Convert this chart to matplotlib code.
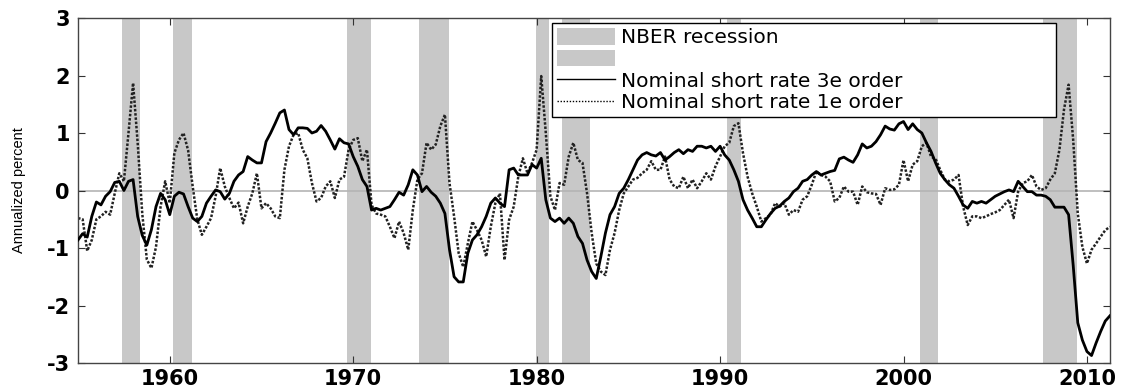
import numpy as np
import matplotlib
matplotlib.use('Agg')
import matplotlib.pyplot as plt
from matplotlib import font_manager
from matplotlib.patches import Patch
from matplotlib.lines import Line2D

plt.rcParams['axes.unicode_minus'] = False

# quarterly observations, 1955Q1 .. 2011Q2
start_year = 1955.0

# Nominal short rate, 3rd order approximation
rate_3e = [
    -0.86, -0.75, -0.81, -0.45,   # 1955
    -0.20, -0.25, -0.10, -0.02,   # 1956
    0.14, 0.16, 0.00, 0.16,       # 1957
    0.19, -0.45, -0.78, -0.95,    # 1958
    -0.68, -0.28, -0.05, -0.16,   # 1959
    -0.42, -0.10, -0.03, -0.06,   # 1960
    -0.28, -0.48, -0.54, -0.45,   # 1961
    -0.22, -0.10, 0.01, -0.02,    # 1962
    -0.15, -0.05, 0.16, 0.27,     # 1963
    0.33, 0.59, 0.53, 0.48,       # 1964
    0.48, 0.85, 1.00, 1.17,       # 1965
    1.35, 1.40, 1.06, 0.97,       # 1966
    1.09, 1.09, 1.08, 1.00,       # 1967
    1.03, 1.13, 1.03, 0.88,       # 1968
    0.72, 0.90, 0.83, 0.81,       # 1969
    0.59, 0.42, 0.19, 0.07,       # 1970
    -0.34, -0.31, -0.34, -0.31,   # 1971
    -0.28, -0.16, -0.03, -0.08,   # 1972
    0.10, 0.36, 0.27, -0.02,      # 1973
    0.07, -0.03, -0.10, -0.22,    # 1974
    -0.40, -1.03, -1.50, -1.59,   # 1975
    -1.59, -1.09, -0.86, -0.77,   # 1976
    -0.63, -0.45, -0.22, -0.13,   # 1977
    -0.22, -0.28, 0.36, 0.39,     # 1978
    0.27, 0.27, 0.27, 0.45,       # 1979
    0.39, 0.56, -0.16, -0.48,     # 1980
    -0.54, -0.48, -0.57, -0.48,   # 1981
    -0.57, -0.80, -0.92, -1.21,   # 1982
    -1.41, -1.53, -1.15, -0.74,   # 1983
    -0.42, -0.28, -0.05, 0.04,    # 1984
    0.19, 0.36, 0.53, 0.62,       # 1985
    0.66, 0.62, 0.60, 0.66,       # 1986
    0.53, 0.59, 0.66, 0.71,       # 1987
    0.64, 0.71, 0.68, 0.77,       # 1988
    0.77, 0.74, 0.77, 0.68,       # 1989
    0.77, 0.62, 0.53, 0.36,       # 1990
    0.16, -0.16, -0.34, -0.48,    # 1991
    -0.63, -0.63, -0.51, -0.40,   # 1992
    -0.31, -0.27, -0.19, -0.13,   # 1993
    -0.02, 0.04, 0.16, 0.19,      # 1994
    0.27, 0.33, 0.27, 0.30,       # 1995
    0.33, 0.35, 0.55, 0.58,       # 1996
    0.53, 0.49, 0.62, 0.81,       # 1997
    0.74, 0.77, 0.85, 0.97,       # 1998
    1.12, 1.07, 1.05, 1.16,       # 1999
    1.20, 1.06, 1.16, 1.06,       # 2000
    1.00, 0.83, 0.68, 0.48,       # 2001
    0.30, 0.19, 0.10, 0.04,       # 2002
    -0.10, -0.25, -0.31, -0.19,   # 2003
    -0.22, -0.19, -0.22, -0.16,   # 2004
    -0.10, -0.06, -0.02, 0.01,    # 2005
    -0.02, 0.16, 0.07, -0.02,     # 2006
    -0.02, -0.08, -0.08, -0.10,   # 2007
    -0.16, -0.29, -0.29, -0.29,   # 2008
    -0.42, -1.30, -2.30, -2.60,   # 2009
    -2.80, -2.87, -2.65, -2.45,   # 2010
    -2.27, -2.18,                 # 2011
]

# Nominal short rate, 1st order approximation
rate_1e = [
    -0.48, -0.50, -1.05, -0.86,   # 1955
    -0.50, -0.45, -0.37, -0.42,   # 1956
    -0.05, 0.30, 0.16, 1.00,      # 1957
    1.87, 0.83, -0.40, -1.20,     # 1958
    -1.35, -0.98, -0.28, 0.16,    # 1959
    -0.22, 0.65, 0.88, 1.00,      # 1960
    0.70, 0.07, -0.50, -0.77,     # 1961
    -0.63, -0.48, -0.10, 0.39,    # 1962
    0.07, -0.13, -0.31, -0.21,    # 1963
    -0.57, -0.28, -0.05, 0.30,    # 1964
    -0.31, -0.22, -0.31, -0.45,   # 1965
    -0.48, 0.36, 0.77, 0.97,      # 1966
    1.00, 0.71, 0.56, 0.13,       # 1967
    -0.19, -0.13, 0.07, 0.16,     # 1968
    -0.13, 0.19, 0.24, 0.71,      # 1969
    0.88, 0.91, 0.51, 0.71,       # 1970
    -0.25, -0.40, -0.42, -0.45,   # 1971
    -0.63, -0.83, -0.54, -0.74,   # 1972
    -1.03, -0.34, 0.19, 0.30,     # 1973
    0.83, 0.71, 0.80, 1.12,       # 1974
    1.32, 0.13, -0.45, -1.09,     # 1975
    -1.33, -0.92, -0.54, -0.69,   # 1976
    -0.86, -1.15, -0.63, -0.22,   # 1977
    -0.05, -1.21, -0.51, -0.28,   # 1978
    0.24, 0.56, 0.30, 0.48,       # 1979
    0.71, 1.99, 1.00, -0.10,      # 1980
    -0.34, 0.13, 0.10, 0.59,      # 1981
    0.83, 0.53, 0.48, -0.05,      # 1982
    -0.74, -1.27, -1.41, -1.47,   # 1983
    -1.03, -0.74, -0.34, -0.05,   # 1984
    0.07, 0.19, 0.22, 0.30,       # 1985
    0.36, 0.51, 0.36, 0.36,       # 1986
    0.59, 0.19, 0.07, 0.04,       # 1987
    0.24, 0.04, 0.19, 0.04,       # 1988
    0.16, 0.30, 0.19, 0.42,       # 1989
    0.59, 0.77, 0.83, 1.12,       # 1990
    1.17, 0.65, 0.24, -0.05,      # 1991
    -0.28, -0.54, -0.48, -0.42,   # 1992
    -0.22, -0.28, -0.22, -0.42,   # 1993
    -0.34, -0.37, -0.16, -0.10,   # 1994
    0.10, 0.33, 0.27, 0.24,       # 1995
    0.16, -0.19, -0.13, 0.07,     # 1996
    -0.02, -0.02, -0.25, 0.07,    # 1997
    -0.03, -0.05, -0.06, -0.25,   # 1998
    0.04, 0.01, 0.02, 0.10,       # 1999
    0.53, 0.16, 0.45, 0.51,       # 2000
    0.77, 0.83, 0.59, 0.55,       # 2001
    0.36, 0.19, 0.16, 0.19,       # 2002
    0.27, -0.28, -0.60, -0.45,    # 2003
    -0.45, -0.48, -0.45, -0.41,   # 2004
    -0.38, -0.34, -0.25, -0.16,   # 2005
    -0.48, -0.02, 0.13, 0.16,     # 2006
    0.27, 0.07, 0.01, 0.04,       # 2007
    0.19, 0.30, 0.71, 1.41,       # 2008
    1.84, 0.88, -0.40, -0.98,     # 2009
    -1.27, -1.03, -0.92, -0.80,   # 2010
    -0.69, -0.63,                 # 2011
]

# NBER recession periods (start, end) in fractional years
rec_start = [1957.4, 1960.15, 1969.65, 1973.6, 1979.95, 1981.4, 1990.4, 2000.9, 2007.6]
rec_end = [1958.4, 1961.2, 1970.95, 1975.2, 1980.65, 1982.9, 1991.15, 2001.9, 2009.45]

x_ticks = [1960, 1970, 1980, 1990, 2000, 2010]
y_ticks = [-3, -2, -1, 0, 1, 2, 3]

dates = start_year + 0.25 * np.arange(len(rate_3e))

fig = plt.figure(figsize=(11.36, 3.88), dpi=100)
ax = fig.add_axes([0.0687, 0.0644, 0.9083, 0.8892])

band_color = '#c8c8c8'
for a, b in zip(rec_start, rec_end):
    ax.axvspan(a, b, color=band_color, lw=0, zorder=0)

ax.axhline(0, color='#b4b4b4', lw=1.2, zorder=1)
ax.plot(dates, rate_1e, color='#222222', lw=1.8, ls=(0, (1, 0.7)), zorder=2)
ax.plot(dates, rate_3e, color='black', lw=2.0, zorder=3)

ax.set_xlim(1955.0, 2011.25)
ax.set_ylim(-3, 3)
ax.set_xticks(x_ticks)
ax.set_yticks(y_ticks)
ax.tick_params(direction='in', length=5, width=0.8, top=True, right=True,
               labelsize=15, color='#333333')
for lab in ax.get_xticklabels() + ax.get_yticklabels():
    lab.set_family(['DejaVu Sans'])
    lab.set_fontweight('bold')
ax.tick_params(axis='y', pad=6)
ax.tick_params(axis='x', pad=4)
for s in ax.spines.values():
    s.set_color('#444444')
    s.set_linewidth(1.0)

# narrow face for the y label if it is there
font_names = {f.name for f in font_manager.fontManager.ttflist}
if 'Liberation Sans Narrow' in font_names:
    ylab_font, ylab_size = 'Liberation Sans Narrow', 12
else:
    ylab_font, ylab_size = 'Liberation Sans', 10.5
ax.set_ylabel('Annualized percent', family=[ylab_font, 'DejaVu Sans'],
              fontsize=ylab_size, labelpad=15)

handles = [
    Patch(facecolor=band_color, edgecolor='none'),
    Patch(facecolor=band_color, edgecolor='none'),
    Line2D([], [], color='black', lw=1.0),
    Line2D([], [], color='black', lw=1.0, ls=(0, (1, 1.2))),
]
labels = ['NBER recession', ' ', 'Nominal short rate 3e order', 'Nominal short rate 1e order']
leg = ax.legend(handles, labels, loc='upper left', mode='expand',
                bbox_to_anchor=(0.459, 0.986, 0.489, 0.0),
                prop={'family': 'DejaVu Sans', 'size': 14.5},
                frameon=True, fancybox=False, edgecolor='black', framealpha=1,
                handlelength=2.9, handleheight=0.9, handletextpad=0.3,
                labelspacing=0.12, borderpad=0.25, borderaxespad=0)
leg.get_frame().set_linewidth(1.0)

fig.savefig('out.png', dpi=100)
